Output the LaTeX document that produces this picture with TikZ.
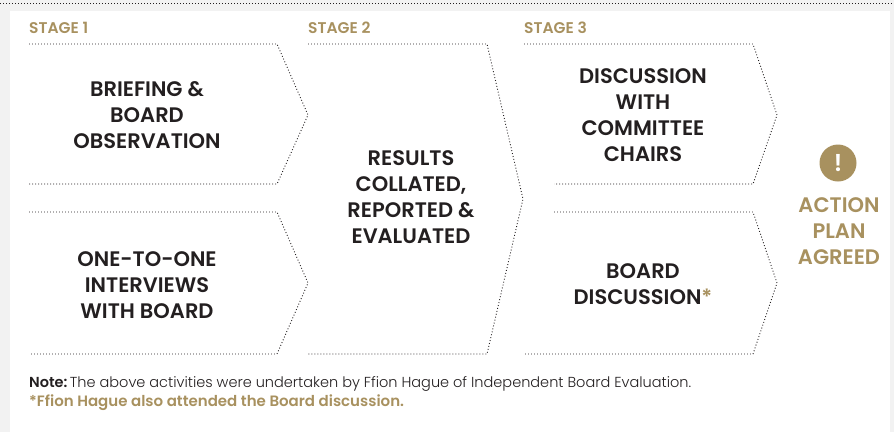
\documentclass[tikz,border=0pt]{standalone}
\usepackage{fontspec}
\setmainfont{Poppins}[BoldFont={Poppins SemiBold}]
\newfontfamily\lightfont{Poppins Light}
\definecolor{gold}{RGB}{168,145,95}
\definecolor{ink}{RGB}{35,31,32}
\definecolor{bggray}{RGB}{242,242,242}
\begin{document}
\begin{tikzpicture}[x=1pt,y=-1pt,
  dotline/.style={ink, line width=0.9pt, dash pattern=on 0.9pt off 2.1pt},
  mainlabel/.style={font=\fontsize{21}{26}\selectfont\bfseries, text=ink, align=center, inner sep=0pt},
  goldlabel/.style={font=\fontsize{21}{26}\selectfont\bfseries, text=gold, align=center, inner sep=0pt},
  stagelabel/.style={font=\fontsize{15.5}{17}\selectfont\bfseries, text=gold, anchor=west, inner sep=0pt},
  notelabel/.style={font=\fontsize{14.5}{18}\selectfont, anchor=base west, inner sep=0pt}]
\useasboundingbox (0,0) rectangle (894,432);
\fill[bggray] (0,0) rectangle (894,432);
\fill[white] (10,11) rectangle (890,432);
\draw[dotline] (0,3) -- (894,3);

% stage labels
\node[stagelabel] (st1) at (29,28) {STAGE 1};
\node[stagelabel] (st2) at (308,28) {STAGE 2};
\node[stagelabel] (st3) at (524,28) {STAGE 3};

% stage 1 shapes
\draw[dotline] (29,44) -- (277,44) -- (308,115) -- (277,184) -- (29,184);
\draw[dotline] (29,212) -- (277,212) -- (308,283) -- (277,354) -- (29,354);
% stage 2 shape
\draw[dotline] (308,44) -- (487,44) -- (523,199) -- (487,354) -- (308,354);
% stage 3 shapes
\draw[dotline] (524,44) -- (753,44) -- (777,115) -- (753,184) -- (554,184);
\draw[dotline] (554,212) -- (753,212) -- (777,283) -- (753,354) -- (524,354);

% texts
\node[mainlabel] (brief) at (147,115.5) {BRIEFING \&\\BOARD\\OBSERVATION};
\node[mainlabel] (oneto) at (147,285.5) {ONE-TO-ONE\\INTERVIEWS\\WITH BOARD};
\node[mainlabel] (results) at (411,197.5) {RESULTS\\COLLATED,\\REPORTED \&\\EVALUATED};
\node[mainlabel] (chairs) at (643,115.5) {DISCUSSION\\WITH\\COMMITTEE\\CHAIRS};
\node[mainlabel] (boarddisc) at (643,284.5) {BOARD\\DISCUSSION\textcolor{gold}{*}};

% action
\node[circle, fill=gold, minimum size=37pt, inner sep=0pt, text=white,
      font=\fontsize{24}{24}\selectfont\bfseries] (excl) at (838,163) {!};
\node[goldlabel] (action) at (839,231.5) {ACTION\\PLAN\\AGREED};

% note
\node[notelabel, text=ink] (note1) at (29,387) {\textbf{Note:}\,{\lightfont The above activities were undertaken by Ffion Hague of Independent Board Evaluation.}};
\node[notelabel, text=gold, font=\fontsize{15}{18}\selectfont] (note2) at (29,406) {\textbf{*Ffion Hague also attended the Board discussion.}};
\end{tikzpicture}
\end{document}
